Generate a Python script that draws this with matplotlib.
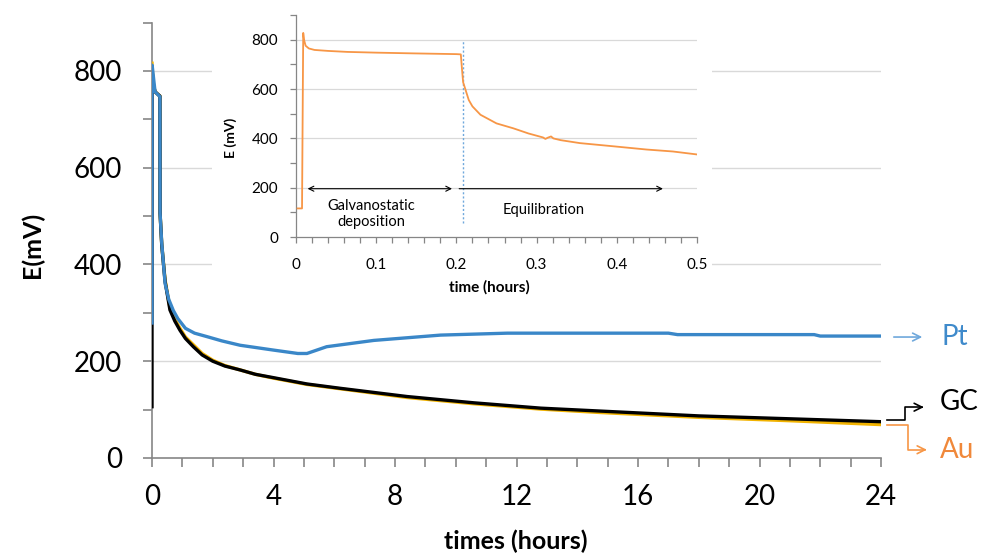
import matplotlib
matplotlib.use("Agg")
import matplotlib.pyplot as plt
from matplotlib.patches import Rectangle
import numpy as np

plt.rcParams['font.family'] = ['Lato', 'DejaVu Sans']

# main chart: potential vs time for three electrodes
t_pt = [0, 0, 0.004, 0.1, 0.26, 0.265, 0.32, 0.43, 0.55, 0.7, 0.85, 1.1, 1.4, 1.8, 2.3, 2.9,
        4.0, 4.8, 5.1, 5.75, 7.3, 9.5, 11.7, 14, 17.0, 17.3, 21.8, 22.0, 24]
E_pt = [279, 812, 812, 757, 747, 506, 444, 361, 328, 305, 288, 268, 258, 251, 242, 233,
        223, 216, 216, 230, 243, 254, 258, 258, 258, 255, 255, 252, 252]

t_gc = [0, 0, 0.003, 0.05, 0.1, 0.26, 0.265, 0.32, 0.43, 0.59, 0.75, 0.92, 1.1, 1.36, 1.65,
        2.0, 2.4, 2.9, 3.4, 4.0, 5.1, 6.2, 8.4, 10.6, 12.8, 14.75, 18, 21, 24]
E_gc = [106, 270, 800, 770, 757, 748, 506, 440, 365, 306, 283, 264, 247, 230, 213,
        200, 190, 182, 173, 166, 153, 144, 127, 114, 103, 97, 87, 81, 75]

t_au = [0, 0.003, 0.05, 0.1, 0.26, 0.265, 0.32, 0.43, 0.59, 0.75, 0.92, 1.1, 1.36, 1.65,
        2.0, 2.4, 2.9, 3.4, 4.0, 5.1, 6.2, 8.4, 10.6, 12.8, 14.75, 18, 21, 24]
E_au = [816, 805, 770, 757, 748, 506, 442, 368, 310, 287, 268, 250, 234, 216,
        202, 191, 182, 173, 165, 152, 143, 125, 112, 101, 94, 84, 77, 69]

# inset: first half hour
t_in = [0.002, 0.0075, 0.0085, 0.009, 0.010, 0.012, 0.016, 0.023, 0.04, 0.064, 0.1, 0.147,
        0.2, 0.2055, 0.207, 0.2084, 0.2154, 0.22, 0.23, 0.25, 0.271, 0.29, 0.308, 0.311,
        0.314, 0.318, 0.321, 0.33, 0.354, 0.396, 0.437, 0.47, 0.5]
E_in = [116, 116, 600, 828, 800, 776, 765, 759, 755, 751, 748, 745,
        742, 741, 680, 628, 556, 530, 496, 461, 441, 420, 404, 398,
        403, 408, 400, 393, 381, 368, 355, 347, 335]
t_switch = 0.208

c_pt = '#3A87C8'
c_au = '#F2B300'
c_in = '#F79646'
grey = '#868686'
gridc = '#D9D9D9'

fig = plt.figure(figsize=(9.91, 5.56), dpi=100)
ax = fig.add_axes([0.1534, 0.1763, 0.7356, 0.7831])

ax.plot(t_au, E_au, color=c_au, lw=2.4, zorder=3)
ax.plot(t_gc, E_gc, color='black', lw=2.4, zorder=4)
ax.plot(t_pt, E_pt, color=c_pt, lw=2.4, zorder=5)

ax.set_xlim(0, 24)
ax.set_ylim(0, 900)
ax.set_xticks(np.arange(0, 25, 1))
ax.set_xticklabels([str(v) if v % 4 == 0 else '' for v in range(25)])
ax.set_yticks(np.arange(0, 901, 100))
ax.set_yticklabels([str(v) if v % 200 == 0 and v <= 800 else '' for v in range(0, 901, 100)])
for y in [200, 400, 600, 800]:
    ax.axhline(y, color=gridc, lw=1, zorder=1)
for s in ['top', 'right']:
    ax.spines[s].set_visible(False)
for s in ['left', 'bottom']:
    ax.spines[s].set_color(grey)
    ax.spines[s].set_linewidth(1.2)
ax.tick_params(axis='both', direction='out', length=6.5, width=1.2, color=grey, labelsize=20)
ax.tick_params(axis='y', pad=15)
ax.tick_params(axis='x', pad=12)

fig.text(0.5207, 0.027, 'times (hours)', ha='center', va='center', fontsize=18, fontweight='bold')
fig.text(0.0323, 0.559, 'E(mV)', ha='center', va='center', fontsize=18, fontweight='bold', rotation=90)

# labels at the right
ax.annotate('', xy=(25.45, 250), xytext=(24.33, 250), annotation_clip=False,
            arrowprops=dict(arrowstyle='->', color='#6FA8DC', lw=1.2, mutation_scale=14))
ax.text(26.0, 250, 'Pt', color='#3F8ACB', fontsize=20, va='center', ha='left', clip_on=False)
ax.plot([24.2, 24.8, 24.8, 25.3], [78, 78, 105, 105], color='black', lw=1.2, clip_on=False)
ax.annotate('', xy=(25.5, 105), xytext=(25.2, 105), annotation_clip=False,
            arrowprops=dict(arrowstyle='->', color='black', lw=1.2, mutation_scale=14))
ax.text(25.95, 116, 'GC', color='black', fontsize=20, va='center', ha='left', clip_on=False)
ax.plot([24.2, 24.9, 24.9, 25.4], [68, 68, 17, 17], color=c_in, lw=1.2, clip_on=False)
ax.annotate('', xy=(25.6, 17), xytext=(25.3, 17), annotation_clip=False,
            arrowprops=dict(arrowstyle='->', color=c_in, lw=1.2, mutation_scale=14))
ax.text(25.95, 16, 'Au', color='#F0883A', fontsize=20, va='center', ha='left', clip_on=False)

# white chart area behind the inset
fig.patches.append(Rectangle((0.214, 0.4604), 0.5045, 0.525, transform=fig.transFigure,
                             facecolor='white', edgecolor='none', zorder=1))

ins = fig.add_axes([0.2987, 0.5737, 0.4046, 0.399])
ins.set_zorder(2)
ins.plot(t_in, E_in, color=c_in, lw=1.3, zorder=3)
ins.plot([t_switch, t_switch], [56, 800], color='#6FA8DC', lw=1.0, ls=(0, (1.5, 1.5)), zorder=2)
ins.set_xlim(0, 0.5)
ins.set_ylim(0, 900)
ins.set_xticks(np.arange(0, 0.501, 0.02))
ins.set_xticklabels(['0' if i == 0 else ('%.1f' % (i * 0.02) if i % 5 == 0 else '') for i in range(26)])
ins.set_yticks(np.arange(0, 901, 100))
ins.set_yticklabels([str(v) if v % 200 == 0 and v <= 800 else '' for v in range(0, 901, 100)])
for y in [200, 400, 600, 800]:
    ins.axhline(y, color=gridc, lw=0.9, zorder=1)
for s in ['top', 'right']:
    ins.spines[s].set_visible(False)
for s in ['left', 'bottom']:
    ins.spines[s].set_color(grey)
    ins.spines[s].set_linewidth(0.9)
ins.tick_params(axis='both', direction='out', length=4, width=0.9, color=grey, labelsize=11)
ins.tick_params(axis='y', pad=9)
ins.tick_params(axis='x', pad=11)

ins.annotate('', xy=(0.011, 196), xytext=(0.198, 196),
             arrowprops=dict(arrowstyle='<->', color='black', lw=0.8, mutation_scale=9))
ins.annotate('', xy=(0.461, 196), xytext=(0.2, 196),
             arrowprops=dict(arrowstyle='->', color='black', lw=0.8, mutation_scale=9))
ins.text(0.094, 95, 'Galvanostatic\ndeposition', ha='center', va='center', fontsize=10.5,
         linespacing=1.2)
ins.text(0.309, 110, 'Equilibration', ha='center', va='center', fontsize=10.5)

fig.text(0.233, 0.752, 'E (mV)', ha='center', va='center', fontsize=10, fontweight='bold', rotation=90)
fig.text(0.494, 0.484, 'time (hours)', ha='center', va='center', fontsize=11, fontweight='bold')

fig.savefig('out.png', dpi=100)
